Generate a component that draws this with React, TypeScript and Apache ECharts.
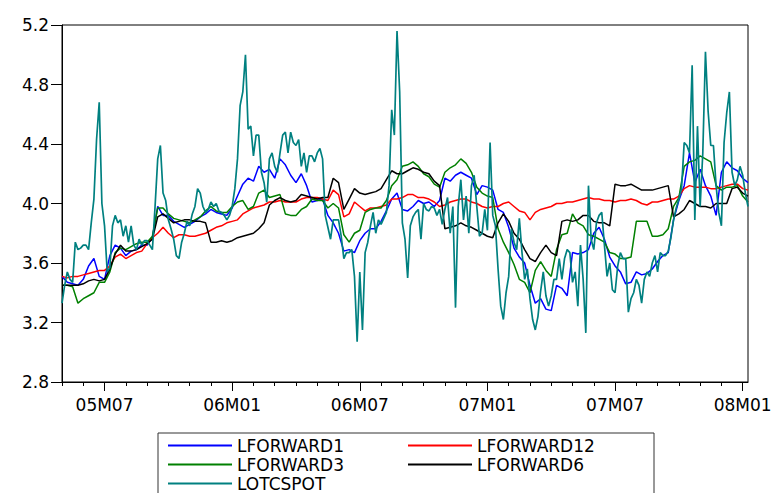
import React, { useEffect, useRef } from 'react';
import * as echarts from 'echarts';

// Time index: months since 2005M05. Forward rates are read every quarter month,
// the spot rate every eighth of a month.
const STEP_MONTHS = 0.25;
const SPOT_STEP_MONTHS = 0.125;

const lforward1 = [
  3.51, 3.47, 3.46, 3.45, 3.49, 3.58, 3.63, 3.51, 3.49, 3.65,
  3.72, 3.70, 3.65, 3.68, 3.69, 3.72, 3.72, 3.77, 3.98, 3.92,
  3.92, 3.88, 3.86, 3.84, 3.86, 3.88, 3.91, 3.93, 3.96, 3.94,
  3.93, 3.92, 3.97, 4.05, 4.13, 4.17, 4.15, 4.25, 4.21, 4.23,
  4.17, 4.30, 4.26, 4.19, 4.14, 4.20, 4.12, 4.01, 4.02, 4.03,
  3.92, 3.87, 3.80, 3.68, 3.69, 3.67, 3.75, 3.80, 3.83, 3.83,
  3.88, 3.95, 4.03, 4.07, 3.96, 3.95, 3.98, 4.02, 4.00, 4.01,
  3.98, 4.02, 4.17, 4.15, 4.19, 4.21, 4.19, 4.17, 4.06, 4.12,
  4.11, 4.09, 3.96, 3.94, 3.84, 3.70, 3.64, 3.60, 3.45, 3.33,
  3.36, 3.29, 3.28, 3.45, 3.43, 3.38, 3.67, 3.66, 3.67, 3.69,
  3.80, 3.84, 3.76, 3.64, 3.58, 3.54, 3.46, 3.47, 3.54, 3.52,
  3.53, 3.56, 3.61, 3.65, 3.67, 3.89, 4.02, 4.12, 4.34, 4.14,
  4.23, 4.12, 4.05, 3.92, 4.21, 4.28, 4.24, 4.22, 4.17, 4.14,
];

const lforward12 = [
  3.51, 3.50, 3.51, 3.51, 3.52, 3.53, 3.54, 3.55, 3.55, 3.58,
  3.64, 3.66, 3.63, 3.65, 3.67, 3.68, 3.73, 3.77, 3.80, 3.84,
  3.80, 3.77, 3.79, 3.79, 3.78, 3.78, 3.79, 3.80, 3.82, 3.84,
  3.85, 3.87, 3.88, 3.89, 3.93, 3.95, 3.97, 3.98, 3.99, 4.01,
  4.01, 4.02, 4.01, 4.01, 4.01, 4.03, 4.04, 4.04, 4.04, 4.03,
  4.02, 4.09, 4.06, 3.91, 3.93, 4.01, 3.98, 3.95, 3.97, 3.97,
  3.98, 3.99, 4.03, 4.03, 4.04, 4.06, 4.06, 4.04, 4.04, 4.03,
  4.01, 3.98, 3.99, 4.01, 4.02, 4.03, 4.03, 4.01, 4.00, 3.98,
  3.97, 3.98, 3.98, 4.00, 4.01, 3.98, 3.95, 3.94, 3.89, 3.94,
  3.96, 3.97, 3.98, 4.00, 4.00, 4.01, 4.01, 4.02, 4.03, 4.04,
  4.03, 4.03, 4.02, 4.02, 4.01, 4.02, 4.02, 4.03, 4.02, 4.00,
  3.99, 4.01, 4.01, 4.02, 4.03, 4.03, 4.05, 4.10, 4.12, 4.11,
  4.11, 4.11, 4.10, 4.10, 4.11, 4.12, 4.13, 4.13, 4.10, 4.09,
];

const lforward3 = [
  3.45, 3.45, 3.44, 3.33, 3.36, 3.38, 3.40, 3.47, 3.47, 3.54,
  3.67, 3.70, 3.69, 3.71, 3.73, 3.74, 3.74, 3.78, 3.97, 3.97,
  3.93, 3.90, 3.89, 3.88, 3.87, 3.89, 3.91, 3.95, 3.98, 3.95,
  3.94, 3.94, 3.98, 4.01, 4.02, 3.96, 3.98, 4.07, 4.09, 4.04,
  4.05, 4.06, 3.93, 3.92, 3.92, 3.96, 3.98, 4.03, 4.02, 4.02,
  3.97, 4.00, 3.97, 3.79, 3.74, 3.80, 3.82, 3.94, 3.96, 3.97,
  3.97, 4.02, 4.12, 4.16, 4.25, 4.26, 4.28, 4.25, 4.20, 4.18,
  4.13, 4.11, 4.21, 4.24, 4.26, 4.30, 4.27, 4.21, 4.11, 4.07,
  4.05, 4.04, 3.83, 3.74, 3.67, 3.59, 3.49, 3.47, 3.40, 3.55,
  3.61, 3.55, 3.51, 3.69, 3.79, 3.80, 3.93, 3.87, 3.85, 3.79,
  3.78, 3.76, 3.74, 3.67, 3.66, 3.63, 3.63, 3.64, 3.88, 3.88,
  3.88, 3.78, 3.78, 3.79, 3.83, 3.98, 4.04, 4.25, 4.28, 4.29,
  4.32, 4.30, 4.28, 4.12, 4.09, 4.11, 4.11, 4.12, 4.05, 4.01,
];

const lforward6 = [
  3.45, 3.45, 3.45, 3.45, 3.46, 3.48, 3.49, 3.48, 3.49, 3.56,
  3.66, 3.72, 3.68, 3.68, 3.69, 3.71, 3.73, 3.76, 3.91, 3.93,
  3.90, 3.87, 3.88, 3.89, 3.89, 3.88, 3.88, 3.87, 3.74, 3.74,
  3.75, 3.74, 3.75, 3.77, 3.78, 3.79, 3.80, 3.83, 3.87, 3.99,
  4.02, 4.04, 4.02, 4.01, 4.02, 4.06, 4.05, 4.04, 4.03, 4.04,
  4.04, 4.17, 4.14, 3.96, 4.03, 4.10, 4.07, 4.06, 4.07, 4.08,
  4.10, 4.16, 4.22, 4.20, 4.20, 4.22, 4.24, 4.23, 4.21, 4.20,
  4.15, 4.12, 3.83, 3.84, 3.85, 3.87, 3.85, 3.84, 3.82, 3.80,
  3.78, 3.77, 3.87, 3.93, 3.88, 3.80, 3.76, 3.69, 3.63, 3.61,
  3.67, 3.72, 3.67, 3.65, 3.88, 3.89, 3.88, 3.89, 3.92, 3.92,
  3.88, 3.87, 3.87, 3.85, 4.13, 4.12, 4.12, 4.13, 4.11, 4.09,
  4.09, 4.09, 4.10, 4.11, 4.12, 3.91, 3.93, 3.96, 4.02, 4.00,
  3.98, 3.98, 3.97, 4.00, 4.00, 4.00, 4.10, 4.11, 4.07, 4.05,
];

const lotcspot = [
  3.33, 3.45, 3.54, 3.49, 3.47, 3.74, 3.69, 3.70, 3.72, 3.72,
  3.69, 3.87, 4.03, 4.43, 4.68, 4.00, 3.85, 3.54, 3.57, 3.85,
  3.92, 3.87, 3.89, 3.78, 3.85, 3.74, 3.85, 3.72, 3.69, 3.76,
  3.72, 3.75, 3.75, 3.72, 3.69, 3.98, 4.30, 4.39, 4.07, 4.02,
  3.89, 3.83, 3.76, 3.65, 3.63, 3.74, 3.80, 3.88, 3.85, 3.93,
  3.98, 4.10, 4.07, 3.98, 3.94, 3.96, 4.01, 3.98, 4.00, 3.95,
  3.94, 3.92, 3.89, 3.92, 3.98, 4.10, 4.30, 4.66, 4.75, 5.00,
  4.50, 4.52, 4.32, 4.46, 4.46, 4.21, 4.14, 4.01, 4.30, 4.34,
  4.25, 4.21, 4.34, 4.46, 4.48, 4.34, 4.48, 4.41, 4.39, 4.43,
  4.25, 4.34, 4.21, 4.32, 4.32, 4.28, 4.34, 4.37, 4.30, 3.92,
  3.84, 3.76, 3.89, 3.89, 3.89, 3.78, 3.63, 3.67, 3.67, 3.69,
  3.51, 3.07, 3.54, 3.15, 3.67, 3.74, 3.85, 3.94, 3.80, 3.89,
  3.86, 3.90, 3.94, 4.12, 4.63, 4.46, 5.16, 4.75, 3.87, 3.76,
  3.50, 3.85, 3.91, 3.94, 3.96, 3.76, 4.00, 3.96, 3.95, 3.98,
  3.97, 3.92, 3.96, 3.86, 3.96, 4.04, 3.80, 3.98, 3.30, 3.98,
  4.16, 3.89, 4.05, 3.80, 4.12, 4.19, 3.98, 3.78, 3.80, 3.96,
  3.82, 4.41, 3.92, 3.85, 3.56, 3.31, 3.22, 3.40, 3.51, 3.83,
  3.74, 3.69, 3.90, 3.67, 3.49, 3.56, 3.36, 3.22, 3.15, 3.24,
  3.41, 3.54, 3.38, 3.31, 3.38, 3.49, 3.49, 3.63, 3.49, 3.63,
  3.69, 3.67, 3.47, 3.54, 3.31, 3.72, 3.49, 3.13, 4.12, 3.76,
  3.69, 3.87, 3.92, 3.94, 3.72, 3.51, 3.60, 3.42, 3.40, 3.58,
  3.67, 3.63, 3.63, 3.27, 3.36, 3.40, 3.49, 3.45, 3.33, 3.49,
  3.54, 3.51, 3.60, 3.65, 3.54, 3.67, 3.65, 3.65, 3.68, 3.77,
  3.89, 3.97, 4.03, 4.10, 4.41, 4.39, 4.34, 4.93, 3.89, 4.52,
  3.98, 4.34, 5.02, 4.62, 4.39, 4.39, 4.12, 3.94, 3.85, 4.41,
  4.61, 4.75, 4.21, 4.12, 4.16, 4.25, 4.19, 4.07, 3.98,
];

const seriesNames = ['LFORWARD1', 'LFORWARD12', 'LFORWARD3', 'LFORWARD6', 'LOTCSPOT'];
const seriesValues = [lforward1, lforward12, lforward3, lforward6, lotcspot];
const seriesSteps = [STEP_MONTHS, STEP_MONTHS, STEP_MONTHS, STEP_MONTHS, SPOT_STEP_MONTHS];
const seriesColors = ['#0000ff', '#ff0000', '#008000', '#000000', '#008080'];

const monthTicks = [2, 8, 14, 20, 26, 32];
const tickLabels = ['05M07', '06M01', '06M07', '07M01', '07M07', '08M01'];
const allMonths = Array.from({ length: 33 }, (_, m) => m);

const X_MIN = 0;
const X_MAX = 32.25;
const Y_MIN = 2.8;
const Y_MAX = 5.2;
const Y_STEP = 0.4;

const FONT = 'DejaVu Sans';

export default function App() {
  const ref = useRef<HTMLDivElement>(null);

  useEffect(() => {
    if (!ref.current) return;
    const chart = echarts.init(ref.current, undefined, { renderer: 'svg' });

    const series = seriesNames.map((name, k) => ({
      name,
      type: 'line',
      xAxisIndex: 0,
      yAxisIndex: 0,
      data: seriesValues[k].map((v, i) => [i * seriesSteps[k], v]),
      showSymbol: false,
      symbol: 'none',
      color: seriesColors[k],
      lineStyle: { color: seriesColors[k], width: k === 4 ? 1.7 : 1.5 },
      emphasis: { disabled: true },
      z: 2 + k,
    }));

    chart.setOption({
      animation: false,
      backgroundColor: '#ffffff',
      grid: {
        left: 62,
        right: 31,
        top: 25,
        bottom: 111,
        show: true,
        borderColor: '#000',
        borderWidth: 1,
        backgroundColor: 'transparent',
      },
      xAxis: [
        {
          type: 'value',
          min: X_MIN,
          max: X_MAX,
          position: 'bottom',
          axisLine: { show: true, onZero: false, lineStyle: { color: '#000', width: 1 } },
          axisTick: { show: true, customValues: allMonths, length: 4, lineStyle: { color: '#000' } },
          axisLabel: { show: false },
          splitLine: { show: false },
        },
        {
          type: 'value',
          min: X_MIN,
          max: X_MAX,
          position: 'bottom',
          axisLine: { show: false, onZero: false },
          axisTick: { show: true, customValues: monthTicks, length: 9, lineStyle: { color: '#000' } },
          axisLabel: {
            show: true,
            customValues: monthTicks,
            formatter: (v: number) => {
              const idx = monthTicks.indexOf(Math.round(v));
              return idx >= 0 ? tickLabels[idx] : '';
            },
            margin: 14,
            fontSize: 17,
            fontFamily: FONT,
            color: '#000',
          },
          splitLine: { show: false },
        },
      ],
      yAxis: {
        type: 'value',
        min: Y_MIN,
        max: Y_MAX,
        interval: Y_STEP,
        axisLine: { show: true, lineStyle: { color: '#000', width: 1 } },
        axisTick: { show: true, length: 11, lineStyle: { color: '#000' } },
        axisLabel: {
          margin: 13,
          fontSize: 17,
          fontFamily: FONT,
          color: '#000',
          formatter: (v: number) => v.toFixed(1),
        },
        splitLine: { show: false },
      },
      legend: {
        show: true,
        data: seriesNames,
        left: 158,
        top: 433,
        width: 480,
        orient: 'horizontal',
        itemGap: 2,
        itemWidth: 64,
        itemHeight: 2,
        icon: 'rect',
        padding: [4, 8, 10, 10],
        borderColor: '#333',
        borderWidth: 1,
        selectedMode: false,
        textStyle: {
          fontFamily: FONT,
          fontSize: 17,
          color: '#000',
          width: 169,
          lineHeight: 15,
        },
      },
      series,
    });

    return () => chart.dispose();
  }, []);

  return (
    <div
      ref={ref}
      style={{ position: 'absolute', left: 0, top: 0, width: 779, height: 493 }}
    />
  );
}
